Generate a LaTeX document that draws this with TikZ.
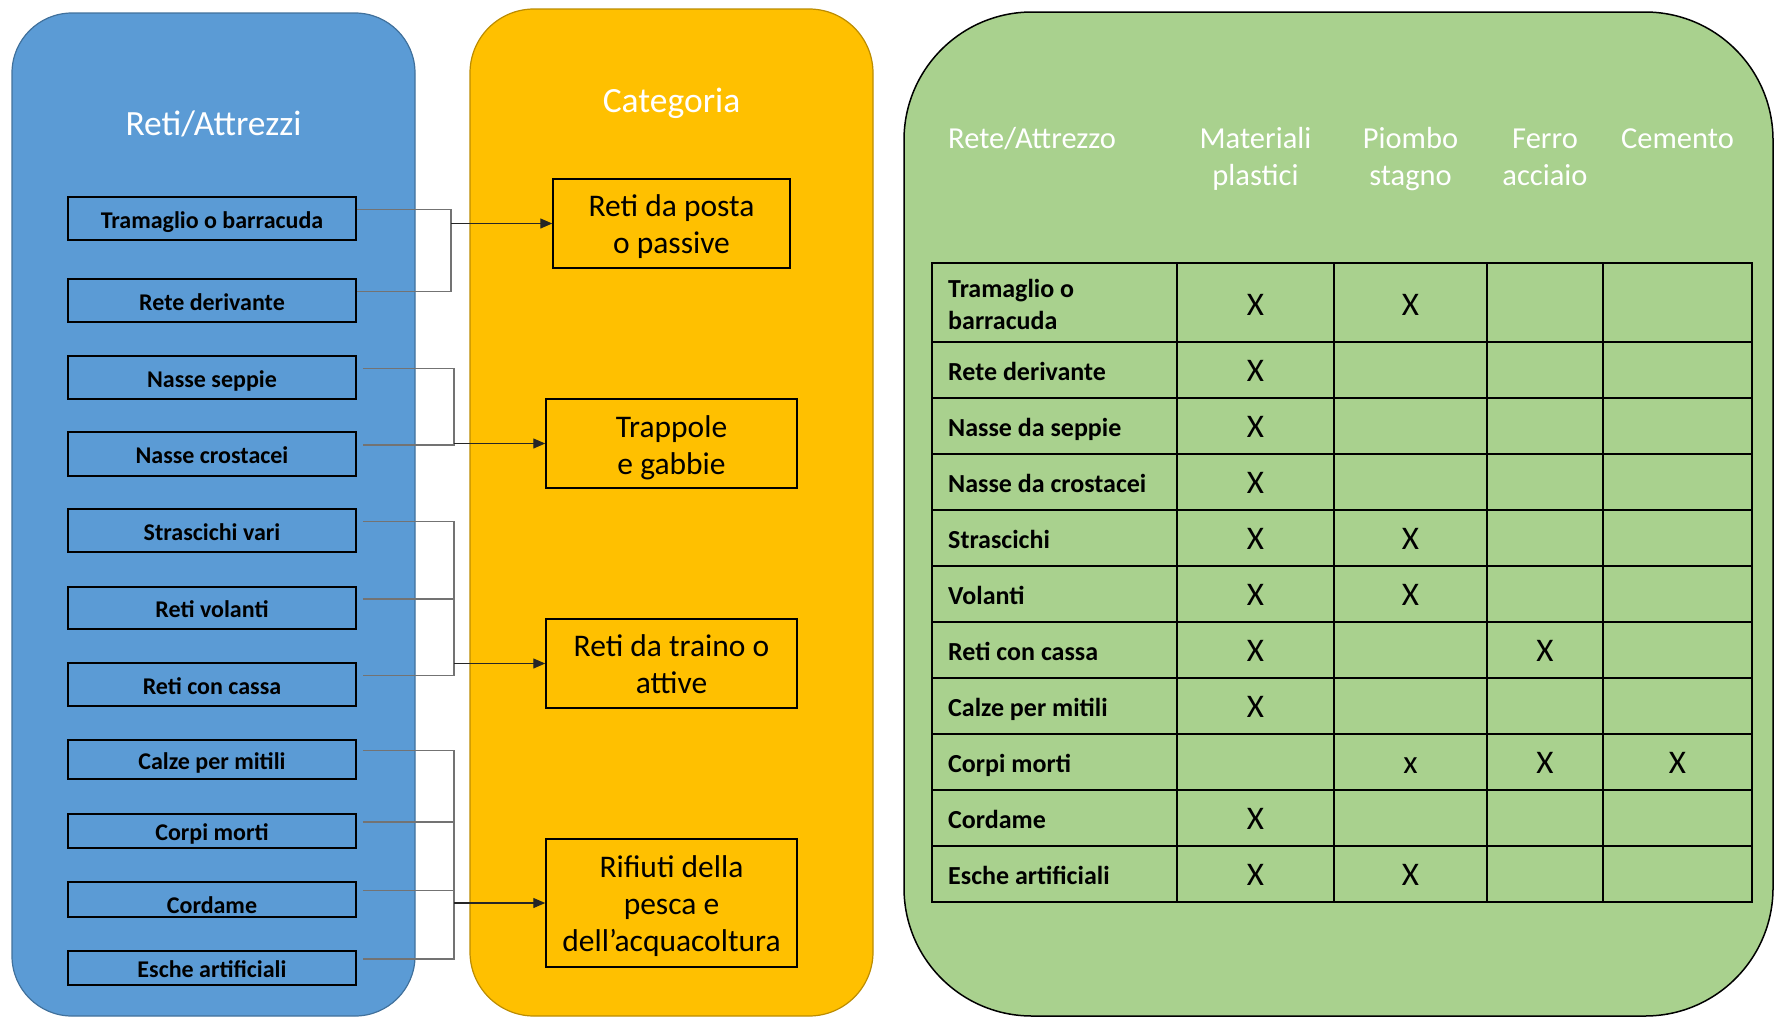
\documentclass[tikz,border=0pt]{standalone}
\usepackage{fontspec}
\setmainfont{Carlito}
\usetikzlibrary{arrows.meta}
\definecolor{pblue}{HTML}{5B9BD5}
\definecolor{pbluedark}{HTML}{41719C}
\definecolor{porange}{HTML}{FFC000}
\definecolor{porangedark}{HTML}{BC8C00}
\definecolor{pgreen}{HTML}{A9D18E}
\begin{document}
\begin{tikzpicture}[x=1pt,y=-1pt,
  title/.style={text=white,font=\fontsize{35.5}{42}\selectfont,inner sep=0,anchor=base},
  lbox/.style={draw=black,line width=1.5pt,minimum width=288pt,inner sep=0,
    text height=19.5pt,text depth=0pt,
    font=\bfseries\fontsize{24}{28}\selectfont},
  cbox/.style={draw=black,line width=1.5pt,inner sep=0},
  ctext/.style={inner sep=0,align=center,font=\fontsize{31.5}{37}\selectfont},
  conn/.style={draw=black!55,line width=1.3pt},
  arr/.style={draw=black!85,line width=1.3pt,-{Triangle[length=12pt,width=10pt]}},
  tbl/.style={draw=black,line width=1.6pt},
  hdr/.style={text=white,font=\fontsize{30.5}{36}\selectfont,inner sep=0,anchor=base},
  rowlab/.style={font=\bfseries\fontsize{26}{30}\selectfont,inner sep=0,anchor=base west},
  xmark/.style={font=\fontsize{33}{38}\selectfont,inner sep=0,anchor=base}]
\useasboundingbox (0,0) rectangle (1774,1017);

% panels
\draw[fill=pblue,draw=pbluedark,line width=1.2pt,rounded corners=60pt] (12,13) rectangle (415,1016);
\draw[fill=porange,draw=porangedark,line width=1.2pt,rounded corners=64pt] (470,9) rectangle (873,1016);
\draw[fill=pgreen,draw=black,line width=1.5pt,rounded corners=128pt] (904,12) rectangle (1773,1016);

% titles
\node[title] (t1) at (213.5,135) {Reti/Attrezzi};
\node[title] (t2) at (671.5,112) {Categoria};

% left boxes
\node[lbox,minimum height=43pt] (b1) at (212,218.5) {Tramaglio o barracuda};
\node[lbox,minimum height=43pt] (b2) at (212,300.5) {Rete derivante};
\node[lbox,minimum height=43pt] (b3) at (212,377.5) {Nasse seppie};
\node[lbox,minimum height=44pt] (b4) at (212,454) {Nasse crostacei};
\node[lbox,minimum height=43pt] (b5) at (212,530.5) {Strascichi vari};
\node[lbox,minimum height=42pt] (b6) at (212,608) {Reti volanti};
\node[lbox,minimum height=43pt] (b7) at (212,684.5) {Reti con cassa};
\node[lbox,minimum height=39pt] (b8) at (212,759.5) {Calze per mitili};
\node[lbox,minimum height=34pt] (b9) at (212,831) {Corpi morti};
\node[lbox,minimum height=35pt,text height=27pt] (b10) at (212,899.5) {Cordame};
\node[lbox,minimum height=34pt] (b11) at (212,968) {Esche artificiali};

% category boxes
\node[cbox,minimum width=237pt,minimum height=89pt] (c1) at (671.5,223.5) {};
\node[cbox,minimum width=251pt,minimum height=89pt] (c2) at (671.5,443.5) {};
\node[cbox,minimum width=251pt,minimum height=89pt] (c3) at (671.5,663.5) {};
\node[cbox,minimum width=251pt,minimum height=128pt] (c4) at (671.5,903) {};
\node[ctext] (c1t) at ([yshift=-3pt]c1.center) {Reti da posta\\o passive};
\node[ctext] (c2t) at ([yshift=-4.5pt]c2.center) {Trappole\\e gabbie};
\node[ctext] (c3t) at ([yshift=-1pt]c3.center) {Reti da traino o\\attive};
\node[ctext] (c4t) at ([yshift=-3pt]c4.center) {Rifiuti della\\pesca e\\dell’acquacoltura};

% connectors
\coordinate (v1) at (451,0);
\coordinate (v2) at (454,0);
\coordinate (p1) at ([yshift=9pt]b1.east);
\coordinate (p2) at ([yshift=9pt]b2.east);
\foreach \k in {3,...,11}{\coordinate (p\k) at ([shift={(6pt,9pt)}]b\k.east);}
\draw[conn] (p1) -- (p1 -| v1) -- (p2 -| v1) -- (p2);
\draw[arr] (v1 |- c1.west) -- (c1.west);
\draw[conn] (p3) -- (p3 -| v2) -- (p4 -| v2) -- (p4);
\draw[arr] (v2 |- c2.west) -- (c2.west);
\draw[conn] (p5) -- (p5 -| v2) -- (p7 -| v2) -- (p7);
\draw[conn] (p6) -- (p6 -| v2);
\draw[arr] (v2 |- c3.west) -- (c3.west);
\draw[conn] (p8) -- (p8 -| v2) -- (p11 -| v2) -- (p11);
\draw[conn] (p9) -- (p9 -| v2);
\draw[conn] (p10) -- (p10 -| v2);
\draw[arr] (v2 |- c4.west) -- (c4.west);

% table headers
\node[hdr,anchor=base west] (h0) at (948,148) {Rete/Attrezzo};
\node[hdr] (h1a) at (1255.5,148) {Materiali};
\node[hdr] (h1b) at (1255.5,185.5) {plastici};
\node[hdr] (h2a) at (1410.5,148) {Piombo};
\node[hdr] (h2b) at (1410.5,185.5) {stagno};
\node[hdr] (h3a) at (1545,148) {Ferro};
\node[hdr] (h3b) at (1545,185.5) {acciaio};
\node[hdr] (h4a) at (1677.5,148) {Cemento};

% table grid
\draw[tbl] (932,263) rectangle (1752,902);
\foreach \k in {0,...,9}{\draw[tbl] (932,{342+56*\k}) -- (1752,{342+56*\k});}
\foreach \cx in {1177,1334,1487,1603}{\draw[tbl] (\cx,263) -- (\cx,902);}

% row labels
\node[rowlab] (r1a) at (948,297) {Tramaglio o};
\node[rowlab] (r1b) at (948,329) {barracuda};
\foreach \lab [count=\i from 2, evaluate=\i as \yy using 380+56*(\i-2)] in
  {Rete derivante,Nasse da seppie,Nasse da crostacei,Strascichi,Volanti,Reti con cassa,Calze per mitili,Corpi morti,Cordame,Esche artificiali}
  {\node[rowlab] (r\i) at (948,\yy) {\lab};}

% marks
\node[xmark] (m1a) at (1255.5,315) {X};
\node[xmark] (m1b) at (1410.5,315) {X};
\node[xmark] (m2a) at (1255.5,381) {X};
\node[xmark] (m3a) at (1255.5,437) {X};
\node[xmark] (m4a) at (1255.5,493) {X};
\node[xmark] (m5a) at (1255.5,549) {X};
\node[xmark] (m5b) at (1410.5,549) {X};
\node[xmark] (m6a) at (1255.5,605) {X};
\node[xmark] (m6b) at (1410.5,605) {X};
\node[xmark] (m7a) at (1255.5,661) {X};
\node[xmark] (m7c) at (1545,661) {X};
\node[xmark] (m8a) at (1255.5,717) {X};
\node[xmark] (m9b) at (1410.5,773) {x};
\node[xmark] (m9c) at (1545,773) {X};
\node[xmark] (m9d) at (1677.5,773) {X};
\node[xmark] (m10a) at (1255.5,829) {X};
\node[xmark] (m11a) at (1255.5,885) {X};
\node[xmark] (m11b) at (1410.5,885) {X};
\end{tikzpicture}
\end{document}
